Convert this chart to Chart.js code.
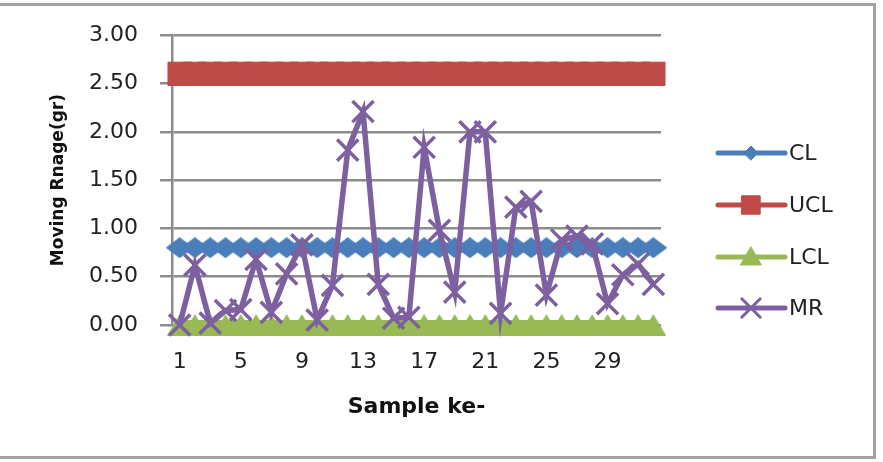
<!DOCTYPE html>
<html>
<head>
<meta charset="utf-8">
<script src="https://cdn.jsdelivr.net/npm/chart.js@4/dist/chart.umd.min.js"></script>
<style>
  html, body { margin: 0; padding: 0; background: #fff; }
  #wrap { position: relative; width: 883px; height: 462px; overflow: hidden; }
  #frame { position: absolute; left: -4px; top: 3px; width: 877px; height: 450px;
           border-top: 3px solid #a3a3a3; border-right: 3px solid #a3a3a3; border-bottom: 3px solid #a3a3a3;
           pointer-events: none; }
  canvas { position: absolute; left: 0; top: 0; }
</style>
</head>
<body>
<div id="wrap">
  <canvas id="c" width="883" height="462"></canvas>
  <div id="frame"></div>
</div>
<script>
const categories = ["1","2","3","4","5","6","7","8","9","10","11","12","13","14","15","16",
                    "17","18","19","20","21","22","23","24","25","26","27","28","29","30","31","32"];
const clValues  = [0.80,0.80,0.80,0.80,0.80,0.80,0.80,0.80,0.80,0.80,0.80,0.80,0.80,0.80,0.80,0.80,
                   0.80,0.80,0.80,0.80,0.80,0.80,0.80,0.80,0.80,0.80,0.80,0.80,0.80,0.80,0.80,0.80];
const uclValues = [2.60,2.60,2.60,2.60,2.60,2.60,2.60,2.60,2.60,2.60,2.60,2.60,2.60,2.60,2.60,2.60,
                   2.60,2.60,2.60,2.60,2.60,2.60,2.60,2.60,2.60,2.60,2.60,2.60,2.60,2.60,2.60,2.60];
const lclValues = [0,0,0,0,0,0,0,0,0,0,0,0,0,0,0,0,
                   0,0,0,0,0,0,0,0,0,0,0,0,0,0,0,0];
const mrValues  = [0.00,0.62,0.02,0.15,0.16,0.68,0.13,0.53,0.83,0.05,0.41,1.81,2.21,0.42,0.07,0.08,
                   1.84,0.98,0.34,2.00,2.00,0.12,1.22,1.28,0.31,0.88,0.92,0.84,0.22,0.52,0.63,0.42];
const seriesNames = ["CL","UCL","LCL","MR"];
const yTickValues = [0,0.5,1,1.5,2,2.5,3];
const xTitle = "Sample ke-";
const yTitle = "Moving Rnage(gr)";

const COLORS = { CL: "#4A7EBB", UCL: "#BE4B48", LCL: "#98B954", MR: "#7D60A0" };
const FONT = "'DejaVu Sans', 'Liberation Sans', sans-serif";

function makeMarker(w, h, color, draw) {
  const c = document.createElement('canvas');
  c.width = w; c.height = h;
  const g = c.getContext('2d');
  g.fillStyle = color;
  g.beginPath();
  draw(g, w, h);
  g.closePath();
  g.fill();
  return c;
}
const diamondMarker = makeMarker(28, 21, COLORS.CL, (g, w, h) => {
  g.moveTo(w / 2, 0); g.lineTo(w, h / 2); g.lineTo(w / 2, h); g.lineTo(0, h / 2);
});
const triangleMarker = makeMarker(26, 22, COLORS.LCL, (g, w, h) => {
  g.moveTo(w / 2, 0); g.lineTo(w, h); g.lineTo(0, h);
});

const legendPlugin = {
  id: 'excelLegend',
  afterDraw(chart) {
    const ctx = chart.ctx;
    const ys = [153, 205, 257, 308];
    const marker = [
      { style: 'rectRot', radius: 7, bw: 1 },
      { style: 'rect', radius: 13, bw: 1 },
      { style: 'triangle', radius: 12, bw: 1 },
      { style: 'crossRot', radius: 13, bw: 3 }
    ];
    chart.data.datasets.forEach((ds, i) => {
      const y = ys[i];
      const col = ds.borderColor;
      ctx.save();
      ctx.strokeStyle = col;
      ctx.lineWidth = 5;
      ctx.lineCap = 'round';
      ctx.beginPath();
      ctx.moveTo(718, y);
      ctx.lineTo(785, y);
      ctx.stroke();
      ctx.fillStyle = col;
      ctx.strokeStyle = col;
      ctx.lineWidth = marker[i].bw;
      Chart.helpers.drawPoint(ctx, { pointStyle: marker[i].style, radius: marker[i].radius, rotation: 0, borderWidth: marker[i].bw },
        751, y + (i === 2 ? 2 : 0));
      ctx.restore();
      ctx.save();
      ctx.font = "22px " + FONT;
      ctx.fillStyle = "#222";
      ctx.textBaseline = 'middle';
      ctx.textAlign = 'left';
      ctx.fillText(ds.label, 789, y + 1);
      ctx.restore();
    });
  }
};

new Chart(document.getElementById('c'), {
  type: 'line',
  data: {
    labels: categories,
    datasets: [
      { label: seriesNames[0], data: clValues, borderColor: COLORS.CL, backgroundColor: COLORS.CL,
        borderWidth: 5, pointStyle: diamondMarker, pointRadius: 10, order: 1, clip: false, tension: 0 },
      { label: seriesNames[1], data: uclValues, borderColor: COLORS.UCL, backgroundColor: COLORS.UCL,
        pointBackgroundColor: COLORS.UCL, pointBorderColor: COLORS.UCL,
        borderWidth: 5, pointStyle: 'rect', pointRadius: 16.5, pointBorderWidth: 1, order: 2, clip: false, tension: 0 },
      { label: seriesNames[2], data: lclValues, borderColor: COLORS.LCL, backgroundColor: COLORS.LCL,
        borderWidth: 10, pointStyle: triangleMarker, pointRadius: 11, order: 3, clip: false, tension: 0 },
      { label: seriesNames[3], data: mrValues, borderColor: COLORS.MR, backgroundColor: COLORS.MR,
        pointBackgroundColor: COLORS.MR, pointBorderColor: COLORS.MR,
        borderWidth: 5.5, pointStyle: 'crossRot', pointRadius: 15, pointBorderWidth: 3.5, order: 0, clip: false, tension: 0 }
    ]
  },
  options: {
    responsive: false,
    animation: false,
    events: [],
    layout: { padding: { left: 44, right: 222, top: 35, bottom: 38 } },
    plugins: { legend: { display: false }, tooltip: { enabled: false } },
    scales: {
      x: {
        type: 'category',
        offset: true,
        grid: { display: false, drawTicks: false },
        border: { display: false },
        ticks: {
          autoSkip: false, maxRotation: 0, padding: 24,
          color: '#222', font: { family: FONT, size: 22 },
          callback: function(v, i) { return i % 4 === 0 ? categories[i] : ''; }
        },
        title: { display: true, text: xTitle, color: '#111', font: { family: FONT, size: 22, weight: 'bold' }, padding: { top: 4, bottom: 4 } },
        afterFit(scale) { scale.height = 99; }
      },
      y: {
        min: 0, max: 3,
        afterBuildTicks(scale) { scale.ticks = yTickValues.map(v => ({ value: v })); },
        grid: { color: '#8c8c8c', lineWidth: 2.5, drawTicks: true, tickLength: 12, tickColor: '#8c8c8c' },
        border: { display: true, color: '#8c8c8c', width: 2.5 },
        ticks: { padding: 22, color: '#222', font: { family: FONT, size: 22 },
                 callback: v => Number(v).toFixed(2) },
        title: { display: true, text: yTitle, color: '#111', font: { family: FONT, size: 17, weight: 'bold' }, padding: { top: 4, bottom: 4 } },
        afterFit(scale) { scale.width = 128; }
      }
    }
  },
  plugins: [legendPlugin]
});
</script>
</body>
</html>
